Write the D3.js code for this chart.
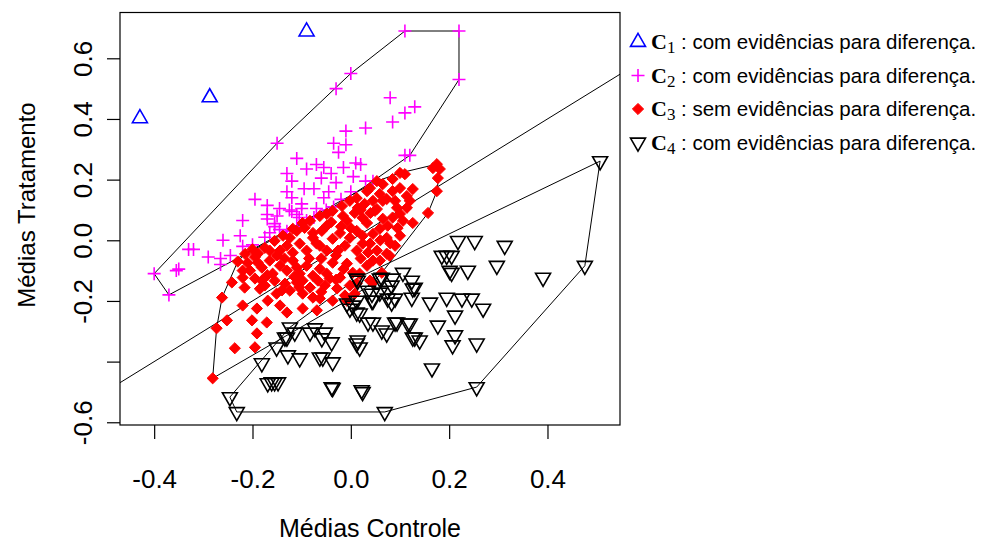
<!DOCTYPE html>
<html>
<head>
<meta charset="utf-8">
<script src="https://cdn.jsdelivr.net/npm/d3@7"></script>
<style>
  body { margin: 0; background: #fff; }
  svg text { font-family: "Liberation Sans", Arial, sans-serif; fill: #000; }
</style>
</head>
<body>
<svg id="chart" width="982" height="542"></svg>
<script>
// C1: tratamento bem acima do controle
const c1Points = [[-0.429, 0.402], [-0.287, 0.471], [-0.090, 0.688]]

// C2: pontos magenta (cruzes)
const c2Points = [
	[-0.40, -0.11], [-0.37, -0.18], [0.11, 0.69], [0.22, 0.69], [0.22, 0.53], [0.11, 0.28], [0.12, 0.28],
	[-0.15, 0.32], [-0.03, 0.50], [0.00, 0.55], [0.08, 0.47], [0.11, 0.42], [0.13, 0.44], [0.085, 0.39],
	[0.03, 0.37], [-0.01, 0.36], [-0.035, 0.32], [-0.01, 0.315], [-0.025, 0.29], [-0.07, 0.25], [-0.09, 0.235],
	[-0.055, 0.24], [-0.015, 0.24], [0.01, 0.255], [-0.04, 0.22], [-0.06, 0.205], [0.005, 0.21], [0.03, 0.195],
	[-0.03, 0.19], [-0.075, 0.17], [-0.045, 0.16], [-0.095, 0.17], [0.00, 0.16], [0.045, 0.195], [-0.02, 0.135],
	[-0.10, 0.105], [-0.055, 0.14], [-0.07, 0.105], [-0.035, 0.11], [-0.11, 0.27], [-0.13, 0.22], [-0.12, 0.195],
	[-0.13, 0.16], [-0.12, 0.14], [-0.195, 0.135], [-0.17, 0.115], [-0.145, 0.105], [-0.125, 0.10], [-0.22, 0.065],
	[-0.17, 0.085], [-0.15, 0.08], [-0.11, 0.085], [-0.155, 0.055], [-0.12, 0.095], [-0.17, 0.07], [-0.155, 0.045],
	[-0.145, 0.035], [-0.225, 0.015], [-0.26, 0.00], [-0.22, -0.02], [-0.20, -0.015], [-0.29, -0.055], [-0.265, -0.06],
	[-0.265, -0.08], [-0.13, 0.03], [-0.105, 0.075], [-0.09, 0.065], [-0.075, 0.075], [-0.10, 0.12], [-0.35, -0.095],
	[-0.33, -0.03], [-0.32, -0.03], [-0.355, -0.10], [-0.245, -0.05], [-0.175, 0.01], [-0.165, 0.025], [-0.11, 0.045],
	[0.02, 0.25], [-0.05, 0.10]
]

// C3: pontos vermelhos (sem evidencias)
const c3Points = [
	[-0.281, -0.455], [-0.262, -0.189], [-0.273, -0.290], [-0.252, -0.264], [-0.236, -0.356], [-0.195, -0.353],
	[-0.191, -0.307], [-0.220, -0.215], [-0.191, -0.225], [-0.201, -0.264], [-0.171, -0.271], [-0.130, -0.238],
	[-0.144, -0.215], [-0.098, -0.225], [-0.069, -0.231], [-0.216, -0.156], [-0.220, -0.123], [-0.181, -0.133],
	[-0.151, -0.176], [-0.124, -0.166], [-0.098, -0.176], [-0.063, -0.192], [-0.037, -0.199], [-0.008, -0.199],
	[0.012, -0.143], [0.039, -0.133], [0.063, -0.107], [0.079, -0.051], [-0.012, -0.182], [0.045, -0.139],
	[0.008, -0.176], [-0.242, -0.139], [-0.220, -0.100], [-0.189, -0.044],
	[-0.205, -0.100], [-0.189, -0.074], [-0.181, -0.090], [-0.165, -0.067], [-0.159, -0.110], [-0.144, -0.084],
	[-0.130, -0.100], [-0.118, -0.067], [-0.104, -0.110], [-0.090, -0.084], [-0.077, -0.117], [-0.063, -0.094],
	[-0.049, -0.110], [-0.037, -0.074], [-0.022, -0.123], [-0.008, -0.077], [0.004, -0.107], [0.018, -0.110],
	[0.033, -0.084], [0.045, -0.067], [0.059, -0.067],
	[-0.175, -0.149], [-0.134, -0.143], [-0.110, -0.139], [-0.083, -0.156], [-0.053, -0.149], [-0.028, -0.159],
	[-0.002, -0.149], [-0.077, -0.189], [-0.169, -0.199], [-0.043, -0.126], [-0.067, -0.133], [-0.098, -0.133],
	[-0.155, -0.133], [-0.195, -0.126],
	[-0.175, -0.025], [-0.165, -0.034], [-0.144, -0.034], [-0.130, -0.018], [-0.118, -0.041], [-0.104, -0.011],
	[-0.090, -0.034], [-0.077, 0.008], [-0.063, -0.018], [-0.049, -0.034], [-0.026, -0.034], [-0.012, -0.018],
	[0.012, -0.034], [0.024, -0.011], [0.039, -0.011], [0.073, -0.044], [0.053, -0.034], [0.090, -0.018],
	[-0.155, -0.002], [-0.138, 0.015], [-0.124, 0.008], [-0.110, 0.031], [-0.094, 0.041], [-0.077, 0.024],
	[-0.059, 0.031], [-0.049, 0.048], [-0.037, 0.005], [-0.022, 0.024], [-0.002, 0.008], [0.012, 0.031],
	[0.024, 0.015], [0.045, 0.021], [0.073, 0.008], [0.100, 0.015], [0.059, 0.038],
	[-0.083, 0.064], [-0.063, 0.080], [-0.049, 0.087], [-0.037, 0.097], [-0.016, 0.080], [-0.008, 0.064],
	[0.008, 0.090], [0.024, 0.074], [0.033, 0.057], [0.049, 0.097], [0.065, 0.071], [0.075, 0.048],
	[0.106, 0.064], [0.126, 0.057], [0.100, 0.087], [0.114, 0.107], [-0.118, 0.038], [-0.098, 0.057],
	[-0.018, 0.113], [-0.002, 0.130], [0.012, 0.139], [0.014, 0.107], [0.033, 0.162], [0.053, 0.103],
	[0.065, 0.130], [0.085, 0.162], [0.094, 0.107], [0.114, 0.146], [0.120, 0.130], [0.059, 0.153],
	[0.073, 0.136], [0.100, 0.172], [0.028, 0.120],
	[0.039, 0.172], [0.053, 0.195], [0.065, 0.185], [0.100, 0.222], [0.110, 0.218], [0.085, 0.202],
	[0.167, 0.238], [0.175, 0.251], [0.181, 0.235], [0.177, 0.205], [0.175, 0.162], [0.157, 0.090],
	[0.126, 0.169], [-0.210, -0.074],
	[-0.195, -0.055], [-0.150, -0.050], [-0.135, -0.060], [-0.110, -0.090], [-0.085, -0.060], [-0.060, -0.060],
	[-0.030, -0.050], [-0.015, -0.095], [0.020, -0.060], [0.035, -0.040], [-0.070, -0.010], [-0.040, 0.060],
	[-0.020, 0.045], [0.000, 0.040], [0.040, 0.090], [0.020, 0.100], [0.085, 0.075], [0.095, 0.040],
	[0.060, 0.000], [0.080, -0.010], [0.090, 0.130], [0.045, 0.130], [-0.185, -0.160], [-0.140, -0.165],
	[-0.105, -0.155], [-0.060, -0.170], [-0.030, -0.130], [-0.115, -0.120], [-0.170, -0.115], [-0.230, -0.070],
	[-0.215, -0.045], [-0.200, -0.030]
]

// C4: triangulos pretos (controle acima do tratamento)
const c4Points = [
	[0.507, 0.261], [0.476, -0.084], [0.391, -0.123], [0.297, -0.084], [0.313, -0.018], [0.252, -0.002],
	[0.218, -0.002], [0.238, -0.100], [0.201, -0.100], [0.185, -0.051], [0.195, -0.051], [0.205, -0.051],
	[0.205, -0.107], [0.106, -0.107], [0.085, -0.126], [0.124, -0.133], [0.130, -0.156], [0.014, -0.133],
	[0.059, -0.126], [0.075, -0.166], [0.124, -0.189], [0.161, -0.205], [0.195, -0.189], [0.226, -0.192],
	[0.246, -0.192], [0.269, -0.225], [0.212, -0.248], [0.177, -0.281], [0.212, -0.313], [0.256, -0.340],
	[0.207, -0.346], [0.165, -0.422], [0.035, -0.166], [0.043, -0.199], [0.083, -0.205], [-0.002, -0.225],
	[0.018, -0.241], [0.045, -0.271], [0.073, -0.307], [0.094, -0.271], [0.120, -0.274], [0.130, -0.320],
	[0.140, -0.330], [0.014, -0.330], [0.018, -0.353], [-0.008, -0.208], [0.012, -0.199], [0.059, -0.172],
	[0.075, -0.192], [0.256, -0.484], [0.069, -0.566], [-0.232, -0.566], [-0.246, -0.517], [-0.181, -0.405],
	[-0.161, -0.468], [-0.155, -0.468], [-0.148, -0.468], [-0.128, -0.379], [-0.104, -0.389], [-0.151, -0.353],
	[-0.124, -0.287], [-0.114, -0.304], [-0.134, -0.320], [-0.073, -0.290], [-0.053, -0.304], [-0.059, -0.323],
	[-0.039, -0.336], [-0.057, -0.386], [-0.037, -0.402], [-0.039, -0.484], [0.022, -0.494], [0.012, -0.126],
	[0.063, -0.123], [0.126, -0.159], [0.083, -0.149], [0.043, -0.176], [0.004, -0.215], [0.045, -0.199],
	[0.090, -0.192], [0.012, -0.238], [0.035, -0.271], [0.063, -0.297], [0.090, -0.271], [0.116, -0.274],
	[0.126, -0.320], [0.012, -0.340], [-0.083, -0.304], [-0.063, -0.386], [-0.037, -0.487], [0.024, -0.500],
	[-0.169, -0.471], [-0.130, -0.320]
]

const xTicks = [-0.4, -0.2, 0.0, 0.2, 0.4]
const yTicks = [-0.6, -0.4, -0.2, 0.0, 0.2, 0.4, 0.6]
const yTicksNoLabel = [-0.4]
const xLabel = 'Médias Controle'
const yLabel = 'Médias Tratamento'
const legendIndex = ['1', '2', '3', '4']
const legendText = [
	': com evidências para diferença.',
	': com evidências para diferença.',
	': sem evidências para diferença.',
	': com evidências para diferença.'
]

const box = {left: 120, right: 620, top: 12.5, bottom: 425}
const x = d3.scaleLinear().domain([-0.4695, 0.5475]).range([box.left, box.right])
const y = d3.scaleLinear().domain([-0.609, 0.751]).range([box.bottom, box.top])

// simbolos no estilo do R (pch 2, 3, 18, 6)
const symbols = {
	up: 'M0,-8.7L7.5,4.35L-7.5,4.35Z',
	down: 'M0,8.7L7.5,-4.35L-7.5,-4.35Z',
	plus: 'M-6.5,0H6.5M0,-6.5V6.5',
	diamond: 'M0,-5.6L5.6,0L0,5.6L-5.6,0Z'
}
const groups = [
	{points: c1Points, shape: 'up', color: '#0000ff', fill: 'none', hull: false},
	{points: c2Points, shape: 'plus', color: '#ff00ff', fill: 'none', hull: true},
	{points: c3Points, shape: 'diamond', color: '#ff0000', fill: '#ff0000', hull: true},
	{points: c4Points, shape: 'down', color: '#000000', fill: 'none', hull: true}
]

const svg = d3.select('#chart')
svg.append('rect').attr('width', 982).attr('height', 542).attr('fill', '#fff')

svg.append('clipPath').attr('id', 'plot-clip')
	.append('rect')
	.attr('x', box.left).attr('y', box.top)
	.attr('width', box.right - box.left).attr('height', box.bottom - box.top)

const plot = svg.append('g').attr('clip-path', 'url(#plot-clip)')

// reta identidade y = x
const line = d3.line().x(d => x(d[0])).y(d => y(d[1]))
const xd = x.domain()
plot.append('path')
	.datum([[xd[0], xd[0]], [xd[1], xd[1]]])
	.attr('d', line)
	.attr('fill', 'none')
	.attr('stroke', '#000')
	.attr('stroke-width', 1)

// fecho convexo de cada grupo
groups.filter(g => g.hull).forEach(g => {
	let hull = d3.polygonHull(g.points.map(p => [x(p[0]), y(p[1])]))
	plot.append('path')
		.attr('d', 'M' + hull.join('L') + 'Z')
		.attr('fill', 'none')
		.attr('stroke', '#000')
		.attr('stroke-width', 1)
})

groups.forEach(g => {
	plot.append('g').selectAll('path')
		.data(g.points)
		.enter()
		.append('path')
		.attr('d', symbols[g.shape])
		.attr('transform', d => `translate(${x(d[0])},${y(d[1])})`)
		.attr('fill', g.fill)
		.attr('stroke', g.color)
		.attr('stroke-width', g.shape === 'diamond' ? 1 : 1.6)
})

svg.append('rect')
	.attr('x', box.left).attr('y', box.top)
	.attr('width', box.right - box.left).attr('height', box.bottom - box.top)
	.attr('fill', 'none')
	.attr('stroke', '#000')
	.attr('stroke-width', 1.2)

// eixos
let fmt = d => d.toFixed(1)
let gx = svg.append('g')
	.attr('transform', `translate(0,${box.bottom})`)
	.call(d3.axisBottom(x).tickValues(xTicks).tickSize(14).tickFormat(fmt))
gx.attr('font-size', null).attr('font-family', null)
gx.select('.domain').remove()
gx.selectAll('line').attr('stroke', '#000').attr('stroke-width', 1.2)
gx.selectAll('text').attr('y', 63).attr('dy', null).style('font-size', '26px')

let gy = svg.append('g')
	.attr('transform', `translate(${box.left},0)`)
	.call(d3.axisLeft(y).tickValues(yTicks).tickSize(13)
		.tickFormat(d => yTicksNoLabel.includes(d) ? '' : fmt(d)))
gy.attr('font-size', null).attr('font-family', null)
gy.select('.domain').remove()
gy.selectAll('line').attr('stroke', '#000').attr('stroke-width', 1.2)
gy.selectAll('text')
	.attr('x', null).attr('dy', null)
	.attr('text-anchor', 'middle')
	.attr('transform', 'translate(-28,0) rotate(-90)')
	.style('font-size', '26px')

svg.append('text')
	.attr('x', (box.left + box.right) / 2)
	.attr('y', 537)
	.attr('text-anchor', 'middle')
	.style('font-size', '25px')
	.text(xLabel)

svg.append('text')
	.attr('transform', 'translate(35,205) rotate(-90)')
	.attr('text-anchor', 'middle')
	.style('font-size', '24px')
	.text(yLabel)

// legenda fora do grafico
let legend = svg.append('g').attr('transform', 'translate(638,0)')
groups.forEach((g, i) => {
	let base = 49 + i * 33.5
	legend.append('path')
		.attr('d', symbols[g.shape])
		.attr('transform', `translate(0,${base - 7})`)
		.attr('fill', g.fill)
		.attr('stroke', g.color)
		.attr('stroke-width', g.shape === 'diamond' ? 1 : 1.6)
	let c = legend.append('text')
		.attr('x', 13)
		.attr('y', base)
		.style('font-family', '"Liberation Serif", "Times New Roman", serif')
		.style('font-weight', 'bold')
		.style('font-size', '22px')
	c.append('tspan').text('C')
	c.append('tspan')
		.attr('dy', 4)
		.style('font-weight', 'normal')
		.style('font-size', '17px')
		.text(legendIndex[i])
	legend.append('text')
		.attr('x', 43)
		.attr('y', base)
		.style('font-size', '20.5px')
		.text(legendText[i])
})
</script>
</body>
</html>
